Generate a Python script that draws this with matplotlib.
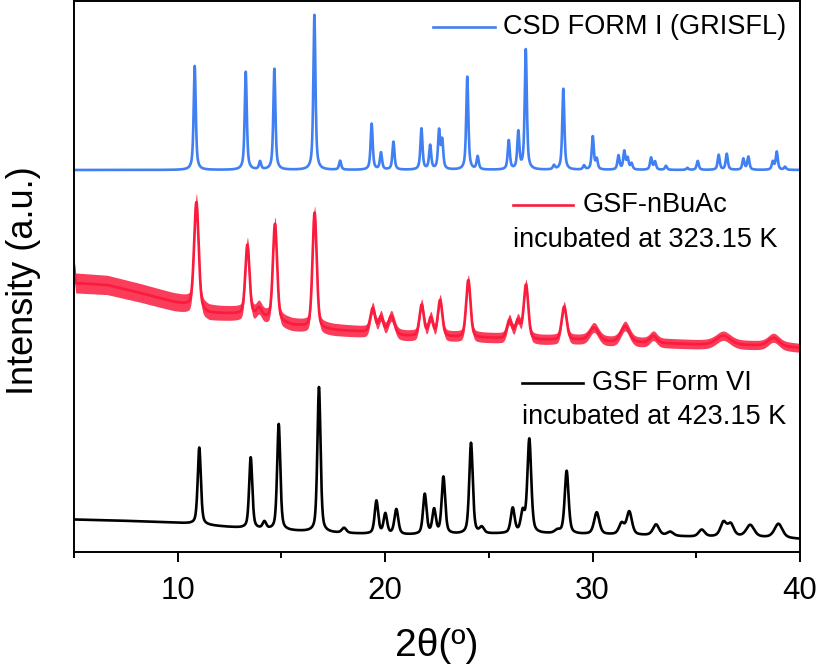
"""Difractogramas de rayos X: GSF forma I (CSD), GSF-nBuAc y GSF forma VI."""

import matplotlib

matplotlib.use("Agg")
import matplotlib.pyplot as plt
import numpy as np
from matplotlib.ticker import MultipleLocator

plt.rcParams["font.family"] = ["Liberation Sans", "DejaVu Sans"]

# ---- datos (intensidad en u.a., 0 = eje inferior) ----
BLUE_BASE_X = [5.0, 40.0]
BLUE_BASE_Y = [382.0, 382.0]
BLUE_CENTERS = [10.82, 13.28, 13.97, 14.66, 16.59, 17.83, 19.35, 19.80, 20.40, 21.75,
                22.17, 22.60, 22.75, 23.96, 24.46, 25.96, 26.42, 26.78, 28.14, 28.59,
                29.59, 30.01, 30.20, 31.25, 31.53, 31.69, 31.88, 32.82, 33.01, 33.54,
                34.57, 35.07, 36.08, 36.47, 37.27, 37.51, 38.69, 38.88, 39.28]
BLUE_HEIGHTS = [104, 98, 8, 101, 155, 9, 46, 17, 28, 41,
                24, 38, 28, 93, 13, 29, 37, 120, 4, 81,
                4, 33, 10, 14, 18, 11, 6, 12, 8, 4,
                2, 9, 15, 16, 11, 13, 8, 18, 3]

RED_BASE_X = [5.0, 5.08, 6.6, 8.2, 9.8, 10.5, 11.5, 13.0, 14.3, 15.5, 17.5, 19.0,
              21.0, 23.3, 25.0, 27.5, 29.5, 31.0, 33.0, 35.0, 37.0, 39.0, 40.0]
RED_BASE_Y = [285, 269, 267, 259, 250, 247, 239, 238, 234, 227, 222, 220,
              216, 215, 214, 212, 212, 210, 209, 207.5, 207, 206, 204]
RED_NOISE_X = [5.0, 10.0, 12.0, 16.0, 20.0, 30.0, 40.0]
RED_NOISE_Y = [10.0, 9.0, 7.5, 6.5, 5.5, 5.0, 4.5]
RED_CENTERS = [10.90, 13.36, 13.92, 14.69, 16.60, 19.40, 19.80, 20.30, 21.76, 22.20,
               22.65, 24.01, 25.99, 26.40, 26.79, 28.63, 30.07, 31.57, 32.93, 36.30,
               38.72]
RED_HEIGHTS = [106, 70, 8, 96, 115, 24, 16, 18, 31, 18,
               36, 57, 18, 18, 54, 33, 13, 16, 7, 9,
               8]
RED_WIDTHS = [0.26, 0.24, 0.30, 0.24, 0.24, 0.28, 0.25, 0.35, 0.25, 0.25,
              0.25, 0.25, 0.28, 0.28, 0.26, 0.28, 0.50, 0.50, 0.40, 0.80,
              0.60]

BLACK_BASE_X = [5.0, 7.0, 9.0, 10.4, 11.8, 13.0, 14.5, 16.0, 17.5, 19.0, 21.0,
                23.5, 25.5, 27.8, 29.5, 31.0, 33.5, 35.0, 37.0, 39.0, 40.0]
BLACK_BASE_Y = [32.5, 31.5, 30, 28.5, 26, 24, 22, 20.5, 19, 18, 17,
                17.5, 18, 18, 17.5, 17, 16, 15, 15, 14, 13]
BLACK_CENTERS = [11.04, 13.52, 14.18, 14.87, 16.81, 18.02, 19.58, 20.01, 20.54, 21.91,
                 22.36, 22.81, 24.14, 24.66, 26.15, 26.63, 26.95, 28.30, 28.75, 30.20,
                 31.40, 31.77, 33.06, 33.74, 35.26, 36.31, 36.66, 37.60, 38.96]
BLACK_HEIGHTS = [77, 71, 7, 106, 145, 5, 33, 20, 25, 40,
                 24, 57, 91, 6, 25, 20, 94, 3, 63, 22,
                 11, 23, 11, 4, 7, 14, 12, 12, 14]
BLACK_WIDTHS = [0.18, 0.18, 0.20, 0.18, 0.18, 0.25, 0.20, 0.20, 0.22, 0.20,
                0.20, 0.20, 0.20, 0.25, 0.22, 0.22, 0.22, 0.30, 0.22, 0.30,
                0.30, 0.30, 0.35, 0.35, 0.35, 0.35, 0.35, 0.45, 0.45]

BLUE = "#4080F2"
RED = "#FA1B3D"
LINE_WIDTH = 1.9


def pseudo_voigt(x, centers, heights, widths, eta):
    """Suma de picos pseudo-Voigt con los parámetros leídos."""
    total = np.zeros_like(x)
    for c, h, w in zip(centers, heights, widths):
        hw = w / 2.0
        lor = 1.0 / (1.0 + ((x - c) / hw) ** 2)
        gau = np.exp(-np.log(2) * ((x - c) / hw) ** 2)
        total += h * (eta * lor + (1 - eta) * gau)
    return total


def main():
    x = np.arange(5.0, 40.0001, 0.01)

    blue = np.interp(x, BLUE_BASE_X, BLUE_BASE_Y) + pseudo_voigt(
        x, BLUE_CENTERS, BLUE_HEIGHTS, [0.12] * len(BLUE_CENTERS), 0.7)
    red = np.interp(x, RED_BASE_X, RED_BASE_Y) + pseudo_voigt(
        x, RED_CENTERS, RED_HEIGHTS, RED_WIDTHS, 0.3)
    red_amp = np.interp(x, RED_NOISE_X, RED_NOISE_Y)
    black = np.interp(x, BLACK_BASE_X, BLACK_BASE_Y) + pseudo_voigt(
        x, BLACK_CENTERS, BLACK_HEIGHTS, BLACK_WIDTHS, 0.5)

    fig = plt.figure(figsize=(8.17, 6.69), dpi=100)
    ax = fig.add_axes([74 / 817, 1 - 552 / 669, 726 / 817, 551 / 669])

    ax.plot(x, blue, color=BLUE, lw=LINE_WIDTH)
    ax.fill_between(x, red - red_amp, red + red_amp, color=RED, lw=0, alpha=0.85)
    ax.plot(x, red, color=RED, lw=LINE_WIDTH)
    ax.plot(x, black, color="black", lw=LINE_WIDTH)

    ax.set_xlim(5, 40)
    ax.set_ylim(0, 551)
    ax.xaxis.set_major_locator(MultipleLocator(10))
    ax.xaxis.set_minor_locator(MultipleLocator(5))
    ax.set_yticks([])
    ax.tick_params(axis="x", which="major", direction="out", length=7.5, width=1.4,
                   labelsize=22.5, pad=9.5)
    ax.tick_params(axis="x", which="minor", direction="out", length=4, width=1.4)
    for spine in ax.spines.values():
        spine.set_linewidth(1.4)

    fig.text(437 / 817, 1 - 646 / 669, "2θ(º)", fontsize=28, ha="center", va="center")
    fig.text(33 / 817, 1 - 281 / 669, "Intensity (a.u.)", fontsize=26, rotation=90,
             rotation_mode="anchor", ha="center", va="baseline")

    # leyendas dibujadas a mano junto a cada curva
    legend_font = 19.5
    ax.plot([0.4945, 0.580], [0.9528, 0.9528], transform=ax.transAxes, color=BLUE,
            lw=LINE_WIDTH)
    ax.text(0.591, 0.9528, "CSD FORM I (GRISFL)", transform=ax.transAxes,
            fontsize=legend_font, va="center", ha="left")

    ax.plot([0.6047, 0.6873], [0.6298, 0.6298], transform=ax.transAxes, color=RED,
            lw=LINE_WIDTH)
    ax.text(0.701, 0.6298, "GSF-nBuAc", transform=ax.transAxes,
            fontsize=legend_font, va="center", ha="left")
    ax.text(0.6047, 0.5662, "incubated at 323.15 K", transform=ax.transAxes,
            fontsize=legend_font, va="center", ha="left")

    ax.plot([0.617, 0.701], [0.3067, 0.3067], transform=ax.transAxes, color="black",
            lw=LINE_WIDTH)
    ax.text(0.7135, 0.3067, "GSF Form VI", transform=ax.transAxes,
            fontsize=legend_font, va="center", ha="left")
    ax.text(0.617, 0.245, "incubated at 423.15 K", transform=ax.transAxes,
            fontsize=legend_font, va="center", ha="left")

    fig.savefig("out.png", dpi=100)


if __name__ == "__main__":
    main()
